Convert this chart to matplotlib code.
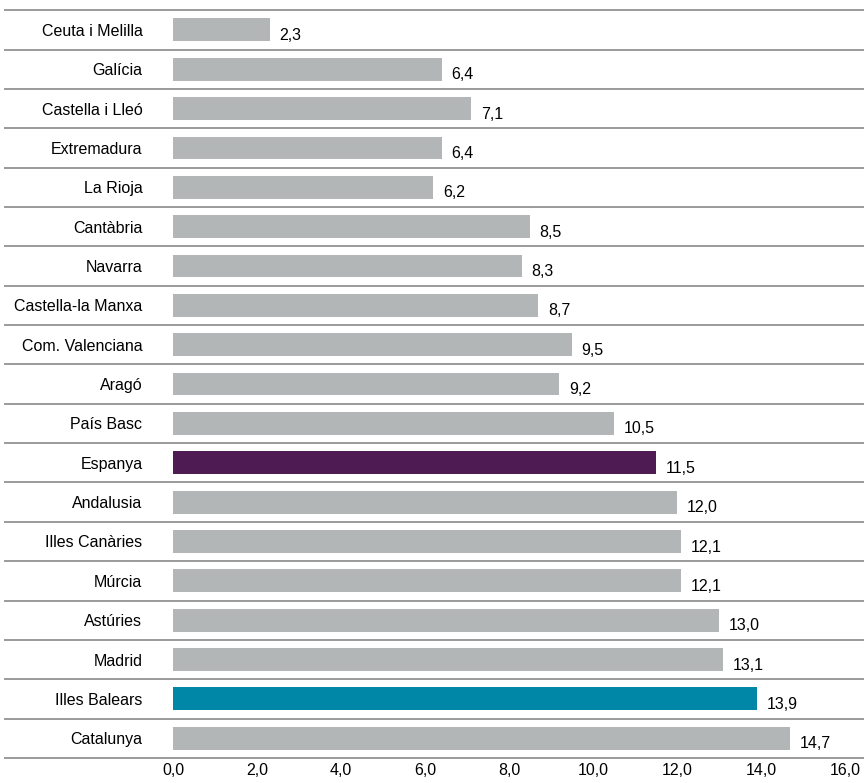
import matplotlib.pyplot as plt
import matplotlib.transforms as mtransforms

plt.rcParams['font.family'] = ['Liberation Sans', 'DejaVu Sans']

# regions, top to bottom
regions = ['Ceuta i Melilla', 'Galícia', 'Castella i Lleó', 'Extremadura', 'La Rioja',
           'Cantàbria', 'Navarra', 'Castella-la Manxa', 'Com. Valenciana', 'Aragó',
           'País Basc', 'Espanya', 'Andalusia', 'Illes Canàries', 'Múrcia',
           'Astúries', 'Madrid', 'Illes Balears', 'Catalunya']
values = [2.3, 6.4, 7.1, 6.4, 6.2, 8.5, 8.3, 8.7, 9.5, 9.2,
          10.5, 11.5, 12.0, 12.1, 12.1, 13.0, 13.1, 13.9, 14.7]
xticks = [0, 2, 4, 6, 8, 10, 12, 14, 16]

grey = '#b3b6b7'
highlight = {'Espanya': '#4e1b53', 'Illes Balears': '#0086a6'}
colors = [highlight.get(r, grey) for r in regions]

fig = plt.figure(figsize=(8.64, 7.83), dpi=100)
ax = fig.add_axes([0.2002, 0.032, 0.7778, 0.955])

n = len(regions)
ypos = list(range(n))
ax.barh(ypos, values, height=0.58, color=colors)
ax.set_ylim(n - 0.5, -0.5)
ax.set_xlim(0, 16)

fs = 11.5
for y, v in zip(ypos, values):
    ax.annotate(f'{v:.1f}'.replace('.', ','), (v, y), xytext=(7, -4),
                textcoords='offset points', va='center', ha='left', fontsize=fs)

# separators between rows
trans = mtransforms.blended_transform_factory(ax.transAxes, ax.transData)
for k in range(n + 1):
    ax.plot([-0.25, 1.03], [k - 0.5, k - 0.5], color='#9a9a9a', lw=1.4,
            transform=trans, clip_on=False)

ax.set_yticks(ypos)
ax.set_yticklabels(regions, fontsize=fs)
ax.set_xticks(xticks)
ax.set_xticklabels([f'{t:.1f}'.replace('.', ',') for t in xticks], fontsize=fs)
ax.tick_params(axis='y', length=0, pad=22)
ax.tick_params(axis='x', length=0, pad=4)
for s in ax.spines.values():
    s.set_visible(False)

fig.savefig('out.png', dpi=100)
